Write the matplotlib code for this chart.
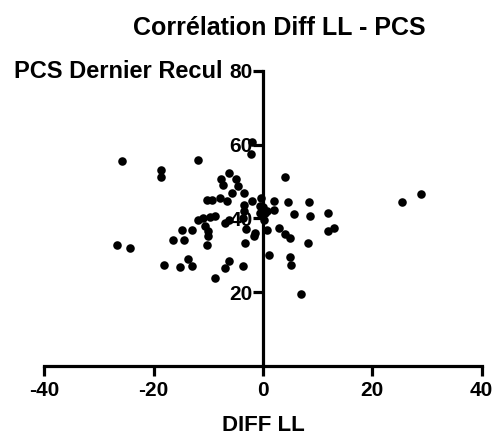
import matplotlib
matplotlib.use("Agg")
import matplotlib.pyplot as plt

plt.rcParams['font.family'] = ['Liberation Sans', 'DejaVu Sans']
plt.rcParams['axes.unicode_minus'] = False

diff_ll = [-25.7, -26.7, -24.4, -18.7, -18.7, -11.8, -2.1, -2.2,
           -6.2, -7.7, -5.0, -7.4, -4.5, -5.7, -3.5,
           -10.3, -9.4, -7.9, -6.5, -2.1, -0.4,
           -3.4, 0.0, -3.4, -0.5,
           -8.8, -9.7, -10.9, -11.8, -7.0, -3.6,
           -10.6, -14.8, -12.9, -3.1, -10.0, -10.0,
           -16.4, -14.4, -1.6, -3.3, -10.2,
           -18.1, -15.2, -13.8, -13.0, -6.3, -7.0, -3.6, -8.8,
           4.1, 2.0, 4.6, 8.4, 2.0, 0.4, 5.7, 8.6, 11.8, 0.1,
           25.5, 28.9, 0.7, 3.0, 4.1, 4.9, 11.8, 12.9, 8.3,
           1.1, 5.0, 5.2, 7.0, -0.5, -6.3, -1.5, 0.7]
pcs = [55.6, 32.9, 31.9, 53.2, 51.3, 55.8, 60.7, 57.5,
       52.4, 50.7, 50.7, 49.0, 48.9, 47.0, 47.0,
       45.0, 45.0, 45.5, 44.8, 44.7, 45.6,
       43.6, 43.2, 42.0, 41.5,
       40.8, 40.4, 40.2, 39.5, 38.8, 40.2,
       37.9, 37.0, 36.8, 37.1, 36.5, 35.2,
       34.1, 34.1, 35.3, 33.3, 32.9,
       27.4, 26.9, 28.9, 27.1, 28.5, 26.7, 27.1, 23.9,
       51.3, 44.7, 44.4, 44.6, 42.2, 41.4, 41.3, 40.7, 41.4, 39.7,
       44.4, 46.6, 36.8, 37.4, 35.9, 34.6, 36.6, 37.4, 33.4,
       30.2, 29.5, 27.3, 19.5, 43.4, 39.7, 36.1, 42.0]

x_ticks = [-40, -20, 0, 20, 40]
y_ticks = [20, 40, 60, 80]

W, H = 495, 436
fig = plt.figure(figsize=(W / 100, H / 100), dpi=100)
ax = fig.add_axes([44.3 / W, (H - 366) / H, 437.4 / W, 295 / H])
ax.scatter(diff_ll, pcs, s=38, color='black', linewidths=0, zorder=5, clip_on=False)
ax.set_xlim(-40, 40)
ax.set_ylim(0, 80)

for s in ['top', 'right']:
    ax.spines[s].set_visible(False)
ax.spines['left'].set_position(('data', 0))
ax.spines['bottom'].set_position(('data', 0))
for s in ['left', 'bottom']:
    ax.spines[s].set_linewidth(2.3)
    ax.spines[s].set_capstyle('projecting')

ax.set_xticks(x_ticks)
ax.set_yticks(y_ticks)
ax.tick_params(axis='both', direction='out', length=7, width=2.3,
               labelsize=15)
ax.tick_params(axis='x', pad=4)
ax.tick_params(axis='y', pad=0.5)
for lbl in ax.get_xticklabels() + ax.get_yticklabels():
    lbl.set_fontweight('bold')
    lbl.set_zorder(1)

fig.text(279 / W, 1 - 35 / H, 'Corrélation Diff LL - PCS', ha='center', va='baseline',
         fontsize=18, fontweight='bold')
fig.text(263 / W, 1 - 431 / H, 'DIFF LL', ha='center', va='baseline',
         fontsize=16, fontweight='bold')
fig.text(223 / W, 1 - 78 / H, 'PCS Dernier Recul', ha='right', va='baseline',
         fontsize=17, fontweight='bold')

fig.savefig('out.png', dpi=100)
